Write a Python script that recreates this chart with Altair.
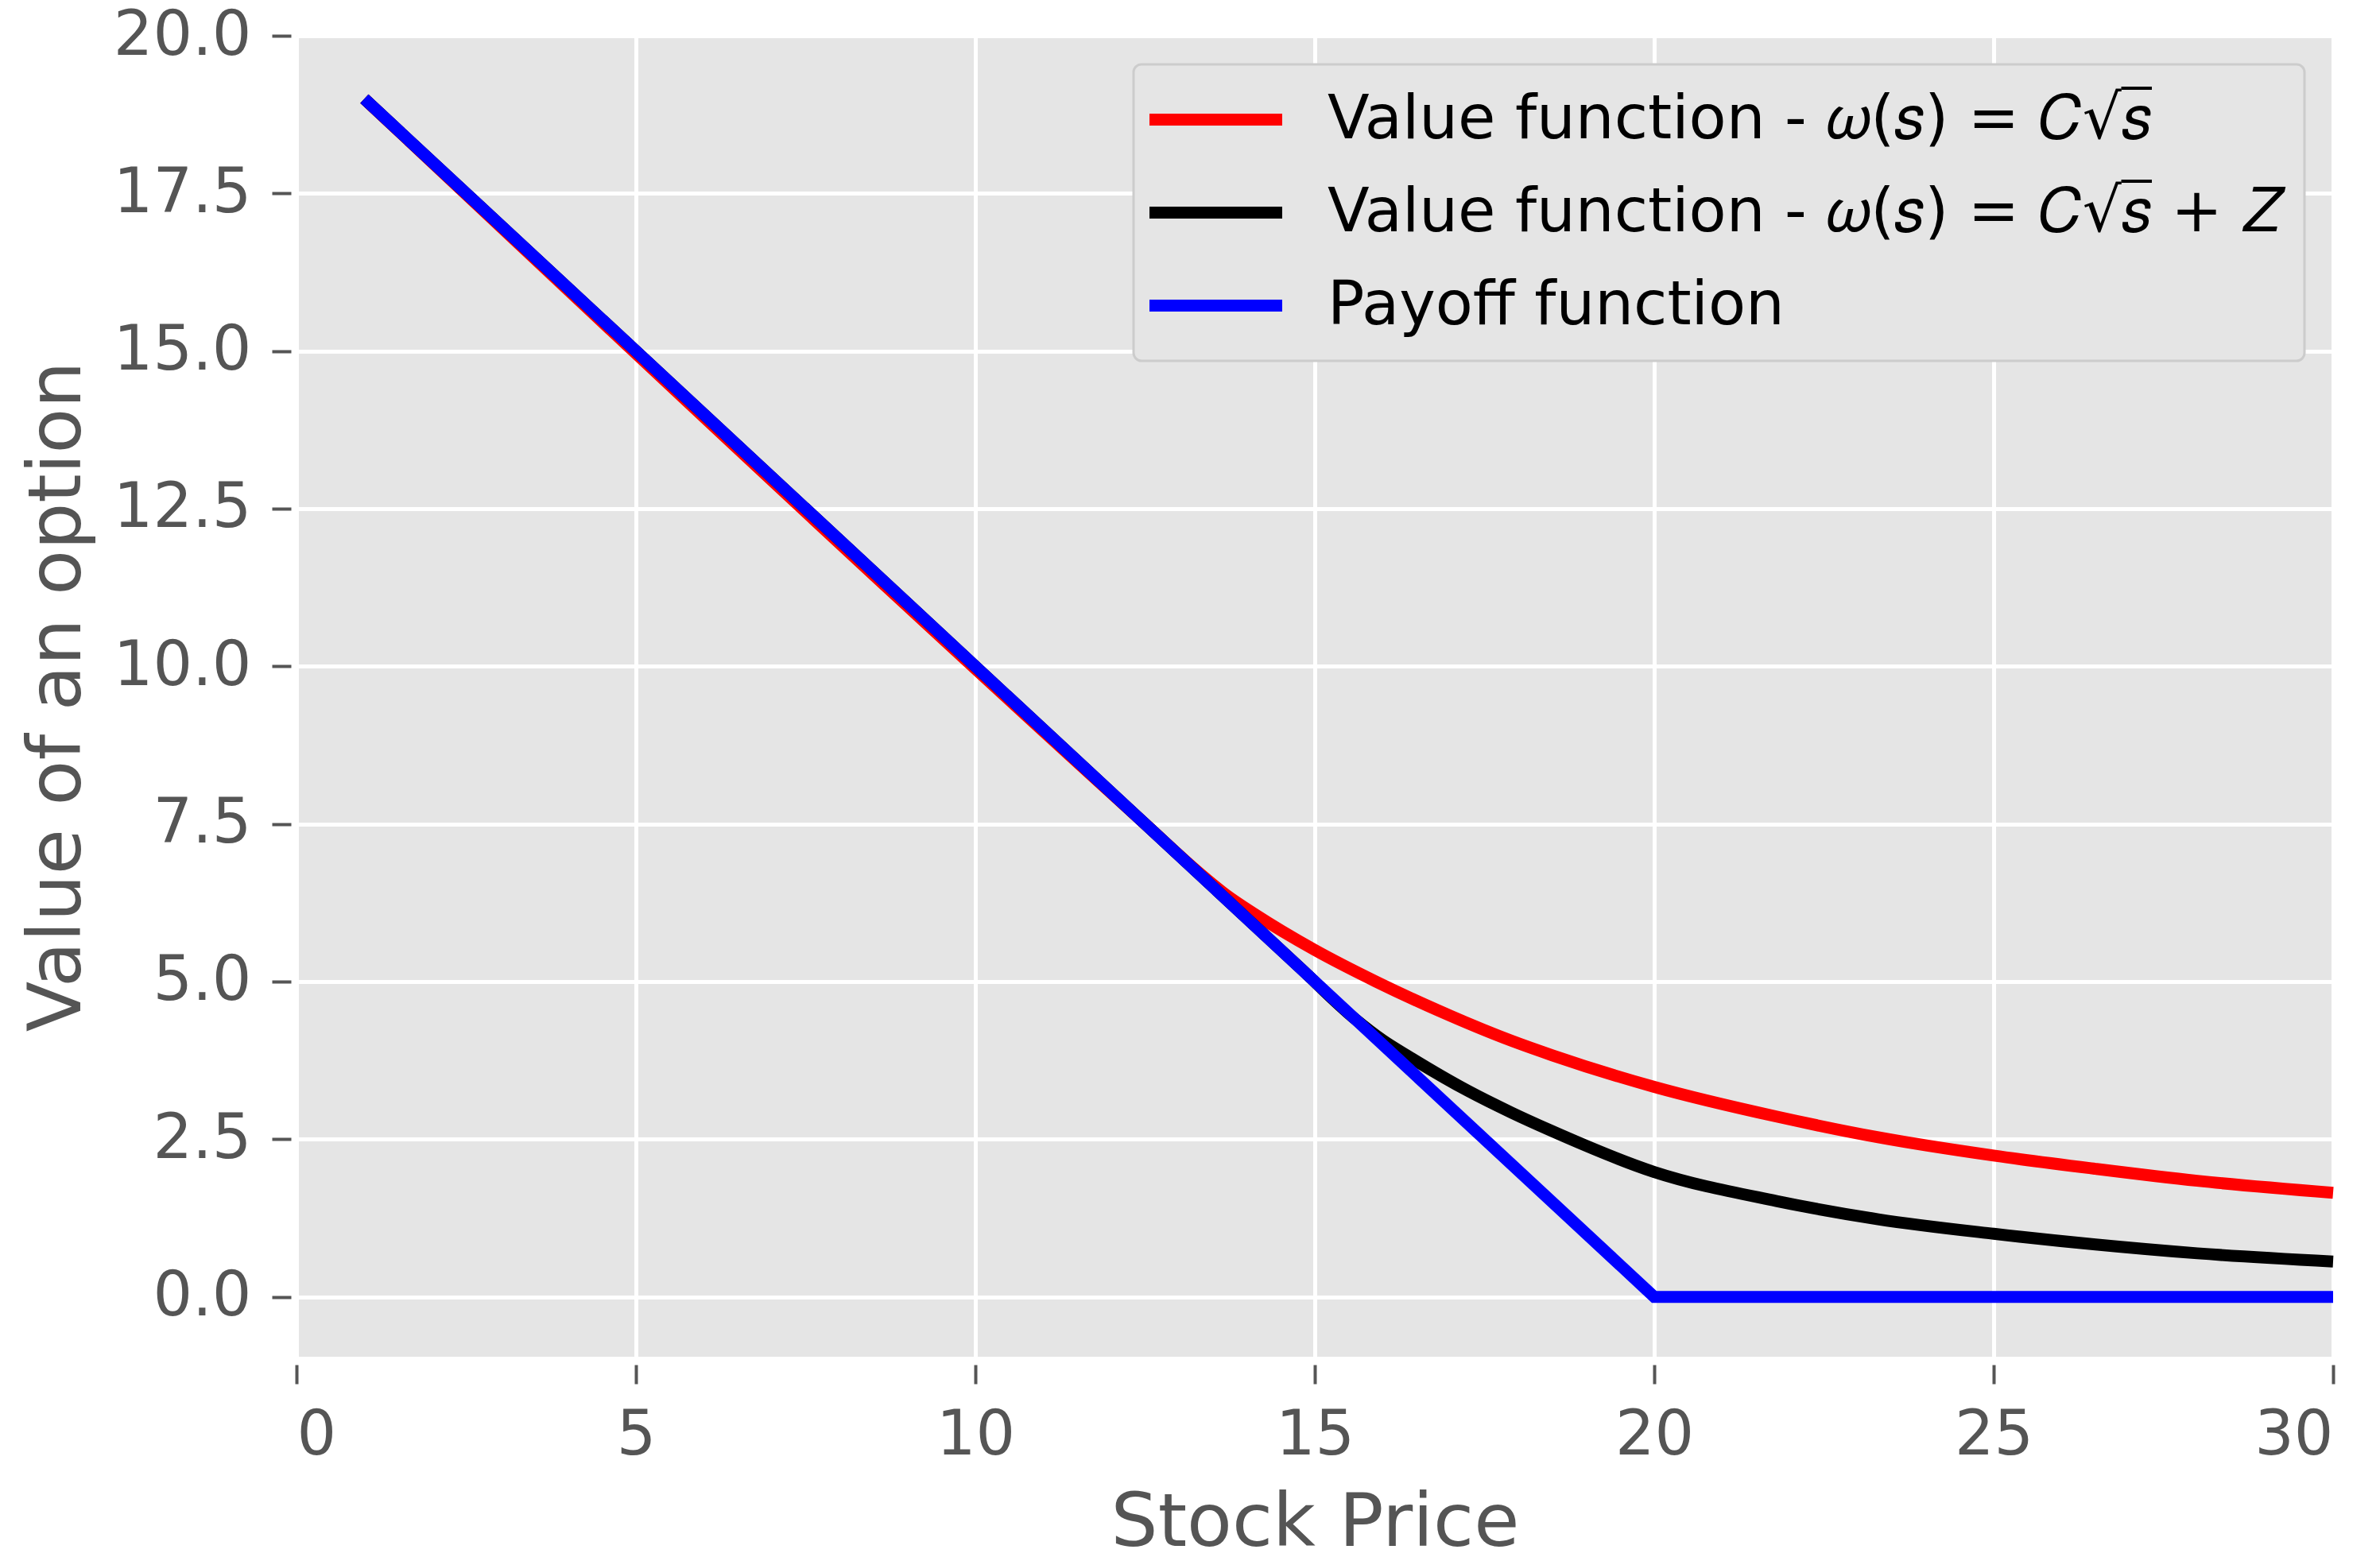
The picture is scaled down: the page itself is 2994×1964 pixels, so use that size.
import altair as alt
import pandas as pd

# ---- data ----
LBL_RED = "Value function - 𝜔(𝑠) = 𝐶√𝑠̅"
LBL_BLACK = "Value function - 𝜔(𝑠) = 𝐶√𝑠̅ + 𝑍"
LBL_BLUE = "Payoff function"

red_x = [1.0, 12.5, 13.3, 13.7, 14.1, 15.0, 15.9, 16.8, 17.9, 18.5, 20.0, 21.8, 23.3, 25.0, 26.5, 28.0, 30.0]
red_y = [19.0, 7.5, 6.72, 6.37, 6.08, 5.50, 5.00, 4.55, 4.06, 3.83, 3.33, 2.86, 2.53, 2.24, 2.03, 1.84, 1.65]

black_x = [1.0, 14.8, 15.6, 16.0, 16.4, 17.25, 17.9, 18.45, 20.0, 21.8, 23.3, 25.0, 26.5, 28.0, 30.0]
black_y = [19.0, 5.2, 4.40, 4.07, 3.80, 3.27, 2.92, 2.65, 1.98, 1.52, 1.23, 1.00, 0.83, 0.69, 0.56]

blue_x = [1.0, 20.0, 30.0]
blue_y = [19.0, 0.0, 0.0]

x_ticks = [0, 5, 10, 15, 20, 25, 30]
y_ticks = [0.0, 2.5, 5.0, 7.5, 10.0, 12.5, 15.0, 17.5, 20.0]

curves = pd.DataFrame(
    {"s": red_x + black_x, "v": red_y + black_y,
     "series": [LBL_RED] * len(red_x) + [LBL_BLACK] * len(black_x)}
)
payoff = pd.DataFrame({"s": blue_x, "v": blue_y, "series": [LBL_BLUE] * len(blue_x)})

domain = [LBL_RED, LBL_BLACK, LBL_BLUE]
colors = ["#FF0000", "#000000", "#0000FF"]

x_enc = alt.X(
    "s:Q",
    scale=alt.Scale(domain=[0, 30], nice=False, zero=False),
    axis=alt.Axis(values=x_ticks, title="Stock Price", offset=10, format="d", titlePadding=26),
)
y_enc = alt.Y(
    "v:Q",
    scale=alt.Scale(domain=[-0.95, 20.0], nice=False, zero=False),
    axis=alt.Axis(values=y_ticks, title="Value of an option", offset=7, format=".1f", titlePadding=46),
)
color_enc = alt.Color(
    "series:N",
    scale=alt.Scale(domain=domain, range=colors),
    legend=alt.Legend(title=None),
)

curve_layer = alt.Chart(curves).mark_line(strokeWidth=15, interpolate="monotone").encode(
    x=x_enc, y=y_enc, color=color_enc, detail="series:N"
)
payoff_layer = alt.Chart(payoff).mark_line(strokeWidth=15).encode(
    x=x_enc, y=y_enc, color=color_enc
)

chart = (
    alt.layer(curve_layer, payoff_layer)
    .properties(
        width=2562,
        height=1662,
        padding={"left": 365, "top": 37, "right": 51, "bottom": 249},
        autosize=alt.AutoSizeParams(type="none"),
        background="white",
    )
    .configure_view(fill="#E5E5E5", strokeWidth=0)
    .configure_axis(
        grid=True,
        gridColor="white",
        gridWidth=5,
        domain=False,
        tickColor="#555555",
        tickWidth=4,
        tickSize=24,
        labelFont="DejaVu Sans",
        labelFontSize=78,
        labelColor="#555555",
        labelPadding=26,
        titleFont="DejaVu Sans",
        titleFontSize=93,
        titleFontWeight="normal",
        titleColor="#555555",
    )
    .configure_legend(
        orient="top-right",
        offset=36,
        fillColor="#E5E5E5",
        strokeColor="#CCCCCC",
        strokeWidth=3,
        cornerRadius=10,
        padding=31,
        labelFont="DejaVu Sans",
        labelFontSize=77,
        labelColor="black",
        labelLimit=3000,
        symbolType="M-3,0H3",
        symbolSize=3099,
        symbolStrokeWidth=15,
        symbolOffset=34,
        labelOffset=102,
        rowPadding=39,
    )
)

chart.save("out.html", embed_options={"renderer": "svg", "actions": False})
